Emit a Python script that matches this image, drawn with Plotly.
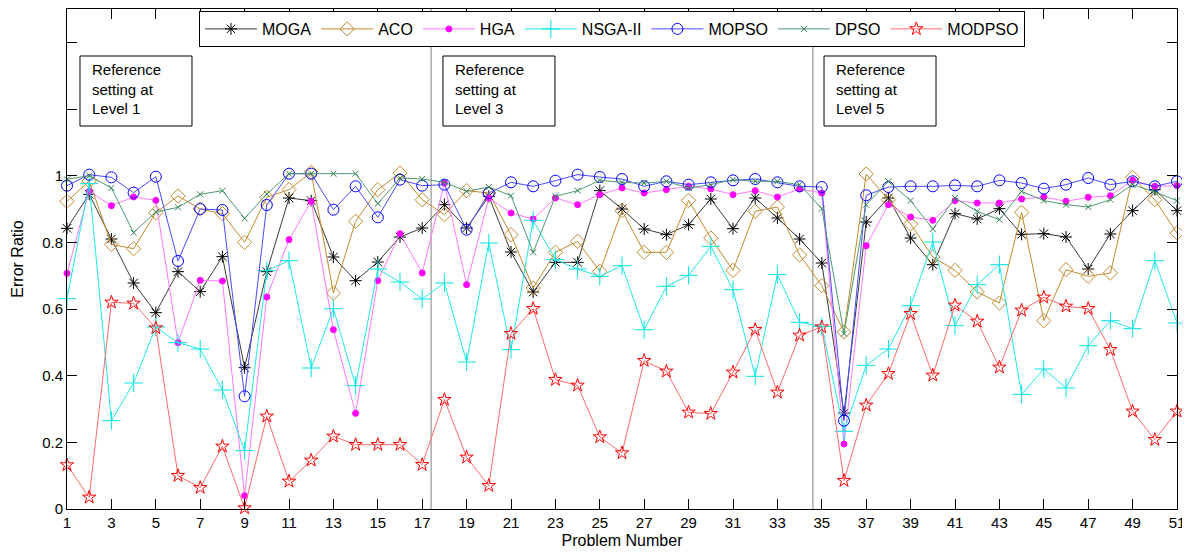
import plotly.graph_objects as go

problems = list(range(1, 52))

moga = [0.842, 0.944, 0.810, 0.678, 0.589, 0.712, 0.652, 0.757, 0.424, 0.712,
        0.933, 0.925, 0.756, 0.685, 0.741, 0.816, 0.843, 0.913, 0.843, 0.938,
        0.771, 0.651, 0.740, 0.740, 0.955, 0.900, 0.840, 0.823, 0.853, 0.930,
        0.841, 0.933, 0.873, 0.810, 0.738, 0.288, 0.861, 0.933, 0.813, 0.733,
        0.886, 0.870, 0.901, 0.824, 0.826, 0.816, 0.720, 0.825, 0.895, 0.958, 0.895]
aco = [0.923, 0.984, 0.794, 0.781, 0.889, 0.939, 0.900, 0.886, 0.800, 0.935,
       0.958, 1.010, 0.648, 0.863, 0.958, 1.008, 0.928, 0.883, 0.955, 0.948,
       0.823, 0.663, 0.770, 0.803, 0.713, 0.895, 0.770, 0.770, 0.926, 0.813,
       0.716, 0.893, 0.906, 0.762, 0.670, 0.531, 1.005, 0.928, 0.855, 0.756,
       0.716, 0.651, 0.618, 0.890, 0.565, 0.718, 0.698, 0.708, 0.995, 0.928, 0.828]
hga = [0.707, 0.953, 0.910, 0.936, 0.926, 0.499, 0.686, 0.684, 0.040, 0.636,
       0.808, 0.923, 0.538, 0.287, 0.685, 0.826, 0.708, 0.978, 0.673, 0.933,
       0.888, 0.870, 0.933, 0.913, 0.943, 0.963, 0.948, 0.958, 0.968, 0.960,
       0.943, 0.955, 0.936, 0.960, 0.948, 0.195, 0.790, 0.913, 0.876, 0.866,
       0.925, 0.918, 0.918, 0.930, 0.936, 0.923, 0.935, 0.940, 0.986, 0.968, 0.970]
nsga2 = [0.631, 0.976, 0.265, 0.378, 0.546, 0.499, 0.480, 0.357, 0.175, 0.715,
         0.745, 0.423, 0.601, 0.370, 0.720, 0.681, 0.630, 0.678, 0.441, 0.798,
         0.478, 0.866, 0.748, 0.720, 0.698, 0.730, 0.538, 0.668, 0.701, 0.788,
         0.658, 0.398, 0.703, 0.560, 0.548, 0.233, 0.431, 0.480, 0.610, 0.801,
         0.550, 0.673, 0.733, 0.344, 0.420, 0.363, 0.490, 0.565, 0.541, 0.745, 0.558]
mopso = [0.970, 1.003, 0.995, 0.949, 0.997, 0.744, 0.900, 0.897, 0.338, 0.912,
         1.006, 1.006, 0.898, 0.968, 0.875, 0.988, 0.970, 0.973, 0.838, 0.948,
         0.980, 0.968, 0.985, 1.003, 0.996, 0.990, 0.968, 0.983, 0.973, 0.980,
         0.986, 0.990, 0.980, 0.968, 0.966, 0.265, 0.941, 0.966, 0.968, 0.968,
         0.971, 0.968, 0.986, 0.978, 0.961, 0.973, 0.993, 0.973, 0.983, 0.968, 0.983]
dpso = [0.989, 1.000, 0.963, 0.829, 0.891, 0.905, 0.944, 0.955, 0.872, 0.945,
        1.006, 1.006, 1.006, 1.006, 0.916, 0.993, 0.990, 0.980, 0.953, 0.966,
        0.940, 0.770, 0.938, 0.955, 0.986, 0.980, 0.978, 0.983, 0.963, 0.973,
        0.988, 0.983, 0.983, 0.973, 0.901, 0.526, 0.913, 0.983, 0.925, 0.840,
        0.933, 0.893, 0.868, 0.953, 0.925, 0.913, 0.906, 0.928, 0.973, 0.951, 0.925]
modpso = [0.132, 0.035, 0.620, 0.617, 0.543, 0.100, 0.064, 0.188, 0.003, 0.278,
          0.083, 0.146, 0.218, 0.193, 0.193, 0.193, 0.133, 0.328, 0.155, 0.070,
          0.526, 0.601, 0.388, 0.371, 0.216, 0.168, 0.445, 0.413, 0.290, 0.286,
          0.410, 0.538, 0.350, 0.521, 0.546, 0.085, 0.311, 0.406, 0.586, 0.401,
          0.611, 0.563, 0.425, 0.596, 0.635, 0.608, 0.601, 0.478, 0.293, 0.208, 0.293]

x_tick_vals = list(range(1, 52, 2))
y_tick_vals = [0, 0.2, 0.4, 0.6, 0.8, 1.0, 1.2, 1.4]
y_tick_text = ["0", "0.2", "0.4", "0.6", "0.8", "1", "", ""]

level_boundaries = [17.4, 34.6]
level_labels = ["Reference<br>setting at<br>Level 1",
                "Reference<br>setting at<br>Level 3",
                "Reference<br>setting at<br>Level 5"]
# box left edges in paper fraction
level_box_x = [0.0117, 0.3387, 0.6820]

series = [
    ("MOGA", moga, "#3a3a3a", "black", "asterisk-open", 10),
    ("ACO", aco, "#c28a2c", "#c28a2c", "diamond-open", 11),
    ("HGA", hga, "#ff7aff", "#ff00ff", "circle", 6),
    ("NSGA-II", nsga2, "#22e8e8", "#00e5e5", "cross-thin-open", 13),
    ("MOPSO", mopso, "#4a4aff", "#0000ff", "circle-open", 11),
    ("DPSO", dpso, "#4f9a70", "#2f8050", "x-thin-open", 6),
    ("MODPSO", modpso, "#ff6a6a", "#ff0000", "star-open", 10),
]

fig = go.Figure()
for name, vals, lc, mc, sym, sz in series:
    fig.add_trace(go.Scatter(
        x=problems, y=vals, name=name, mode="lines+markers",
        line=dict(color=lc, width=1),
        marker=dict(symbol=sym, size=sz, color=mc, line=dict(color=mc, width=1)),
        cliponaxis=False,
    ))

font_family = "Liberation Sans, Arial, Helvetica, sans-serif"

shapes = []
for xb in level_boundaries:
    shapes.append(dict(type="line", xref="x", yref="paper", x0=xb, x1=xb, y0=0, y1=1,
                       line=dict(color="#808080", width=1), layer="below"))

annotations = []
for bx, txt in zip(level_box_x, level_labels):
    shapes.append(dict(type="rect", xref="paper", yref="paper",
                       x0=bx, x1=bx + 0.1009, y0=0.766, y1=0.906,
                       line=dict(color="black", width=1), fillcolor="white", layer="above"))
    annotations.append(dict(xref="paper", yref="paper", x=bx + 0.009, y=0.900,
                            xanchor="left", yanchor="top", text=txt, showarrow=False,
                            align="left", font=dict(size=15, color="black", family=font_family)))

# the page body has an 8px margin; size the figure so the plot lands where the reference has it
fig.update_layout(
    width=1182, height=546,
    margin=dict(l=59, r=13, t=1, b=45, autoexpand=False),
    paper_bgcolor="white", plot_bgcolor="white",
    font=dict(family=font_family, color="black", size=15),
    showlegend=True,
    legend=dict(orientation="h", x=0.1189, y=0.996, xanchor="left", yanchor="top",
                bordercolor="black", borderwidth=1, bgcolor="white",
                font=dict(size=16, color="black", family=font_family),
                itemwidth=52),
    shapes=shapes,
    annotations=annotations,
    xaxis=dict(range=[1, 51], tickvals=x_tick_vals, ticks="inside", ticklen=10,
               tickcolor="black", showline=True, linecolor="black", linewidth=1,
               mirror="allticks", showgrid=False, zeroline=False, automargin=False,
               tickfont=dict(size=15), title=dict(text="Problem Number", font=dict(size=16), standoff=4)),
    yaxis=dict(range=[0, 1.5], tickvals=y_tick_vals, ticktext=y_tick_text, ticks="inside",
               ticklen=10, tickcolor="black", showline=True, linecolor="black", linewidth=1,
               mirror="allticks", showgrid=False, zeroline=False, automargin=False,
               tickfont=dict(size=15), title=dict(text="Error Ratio", font=dict(size=16), standoff=14)),
)

fig.write_html("out.html")
